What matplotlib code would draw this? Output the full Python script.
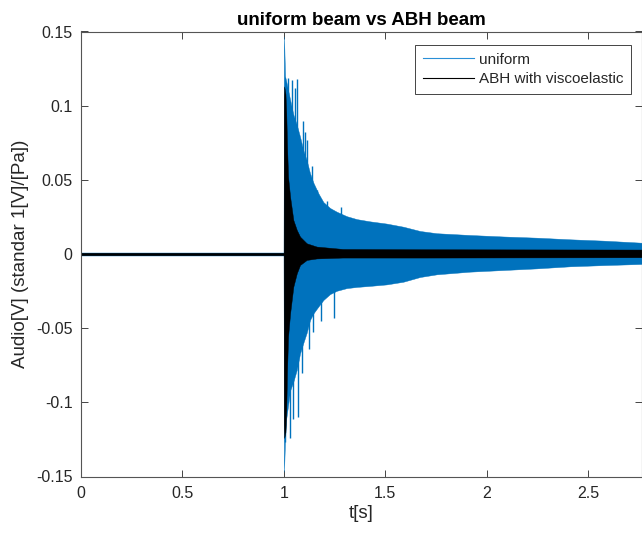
import matplotlib
matplotlib.use("Agg")
import matplotlib.pyplot as plt
from matplotlib.lines import Line2D
import numpy as np

plt.rcParams['font.family'] = ['Liberation Sans', 'DejaVu Sans']

# ---- data (envelopes) ----
uniform_t = [0.0, 0.999, 1.000, 1.001, 1.006, 1.011, 1.031, 1.047, 1.064, 1.080, 1.096, 1.113,
             1.129, 1.146, 1.170, 1.195, 1.228, 1.261, 1.310, 1.360, 1.425, 1.507,
             1.589, 1.672, 1.754, 1.918, 2.083, 2.247, 2.411, 2.576, 2.766]
uniform_hi = [0.0010, 0.0010, 0.120, 0.1466, 0.120, 0.117, 0.104, 0.0940, 0.087, 0.079, 0.070, 0.063,
              0.0545, 0.048, 0.041, 0.035, 0.031, 0.0285, 0.0255, 0.0235, 0.0220, 0.0205,
              0.0184, 0.0155, 0.0140, 0.0128, 0.0118, 0.0110, 0.0099, 0.0090, 0.0076]
uniform_lo = [-0.0010, -0.0010, -0.120, -0.1468, -0.125, -0.112, -0.092, -0.086, -0.078, -0.067, -0.060, -0.053,
              -0.0445, -0.040, -0.0355, -0.031, -0.0270, -0.0248, -0.0230, -0.0222, -0.0215, -0.0205,
              -0.0187, -0.0155, -0.0137, -0.0119, -0.0108, -0.0097, -0.0083, -0.0075, -0.0067]

# individual peaks rising above the uniform-beam envelope
peak_t = [1.006, 1.021, 1.031, 1.039, 1.047, 1.055, 1.064, 1.072, 1.088, 1.093, 1.104, 1.113, 1.125,
          1.137, 1.146, 1.165, 1.185, 1.215, 1.245, 1.280]
peak_val = [-0.1266, 0.1185, -0.124, 0.117, -0.111, 0.112, 0.118, -0.110, -0.080, 0.090, 0.082, 0.077, -0.064,
            0.059, -0.0524, 0.043, -0.045, 0.036, -0.043, 0.032]

abh_t = [0.0, 0.999, 1.000, 1.002, 1.008, 1.012, 1.016, 1.021, 1.031, 1.047, 1.064, 1.080, 1.113, 1.162,
         1.290, 1.700, 2.200, 2.766]
abh_hi = [0.0008, 0.0008, 0.105, 0.113, 0.108, 0.095, 0.0724, 0.052, 0.0386, 0.0229, 0.0162, 0.0117, 0.0072, 0.0050,
          0.0034, 0.0032, 0.0031, 0.0030]
abh_lo = [-0.0008, -0.0008, -0.115, -0.124, -0.120, -0.105, -0.078, -0.0557, -0.040, -0.022, -0.013, -0.0074, -0.0040, -0.0030,
          -0.0024, -0.0024, -0.0023, -0.0022]

xticks = [0, 0.5, 1, 1.5, 2, 2.5]
xticklabels = ['0', '0.5', '1', '1.5', '2', '2.5']
yticks = [-0.15, -0.1, -0.05, 0, 0.05, 0.1, 0.15]
yticklabels = ['-0.15', '-0.1', '-0.05', '0', '0.05', '0.1', '0.15']

blue = '#0072BD'
axcol = '#262626'

fig = plt.figure(figsize=(6.42, 5.34), dpi=100)
ax = fig.add_axes([81/642, (534-476.5)/534, 1 - 81/642, (476.5-31.5)/534])

ax.vlines(peak_t, 0, peak_val, color=blue, linewidth=1.0, zorder=1)
ax.fill_between(uniform_t, uniform_lo, uniform_hi, facecolor=blue, edgecolor=blue, linewidth=0.3, zorder=2)
ax.fill_between(abh_t, abh_lo, abh_hi, facecolor='black', edgecolor='black', linewidth=0.3, zorder=3)

ax.set_xlim(0, 2.766)
ax.set_ylim(-0.15, 0.15)
ax.set_xticks(xticks)
ax.set_xticklabels(xticklabels)
ax.set_yticks(yticks)
ax.set_yticklabels(yticklabels)
ax.tick_params(direction='in', length=5, width=0.6, color=axcol, labelcolor=axcol,
               labelsize=11.5, top=True, right=True)
ax.tick_params(axis='x', pad=7)
ax.tick_params(axis='y', pad=6)
for s in ax.spines.values():
    s.set_color('#555555')
    s.set_linewidth(0.8)
    s.set_zorder(5)

ax.set_title('uniform beam vs ABH beam', fontsize=13.5, fontweight='bold', pad=5)
ax.set_xlabel('t[s]', fontsize=13.5, color=axcol, labelpad=3)
ax.set_ylabel('Audio[V] (standar 1[V]/[Pa])', fontsize=13.5, color=axcol, labelpad=5)

handles = [Line2D([], [], color='#2a8fd6', lw=0.8), Line2D([], [], color='black', lw=0.8)]
leg = ax.legend(handles, ['uniform', 'ABH with viscoelastic'], loc='upper right',
                bbox_to_anchor=(631/642, 1 - 45/534), bbox_transform=fig.transFigure,
                fancybox=False, framealpha=1, edgecolor=axcol, fontsize=11,
                handlelength=3.3, handletextpad=0.35, borderpad=0.5, labelspacing=0.35,
                borderaxespad=0)
leg.get_frame().set_linewidth(0.6)
for t in leg.get_texts():
    t.set_color(axcol)

fig.savefig('out.png', dpi=100)
